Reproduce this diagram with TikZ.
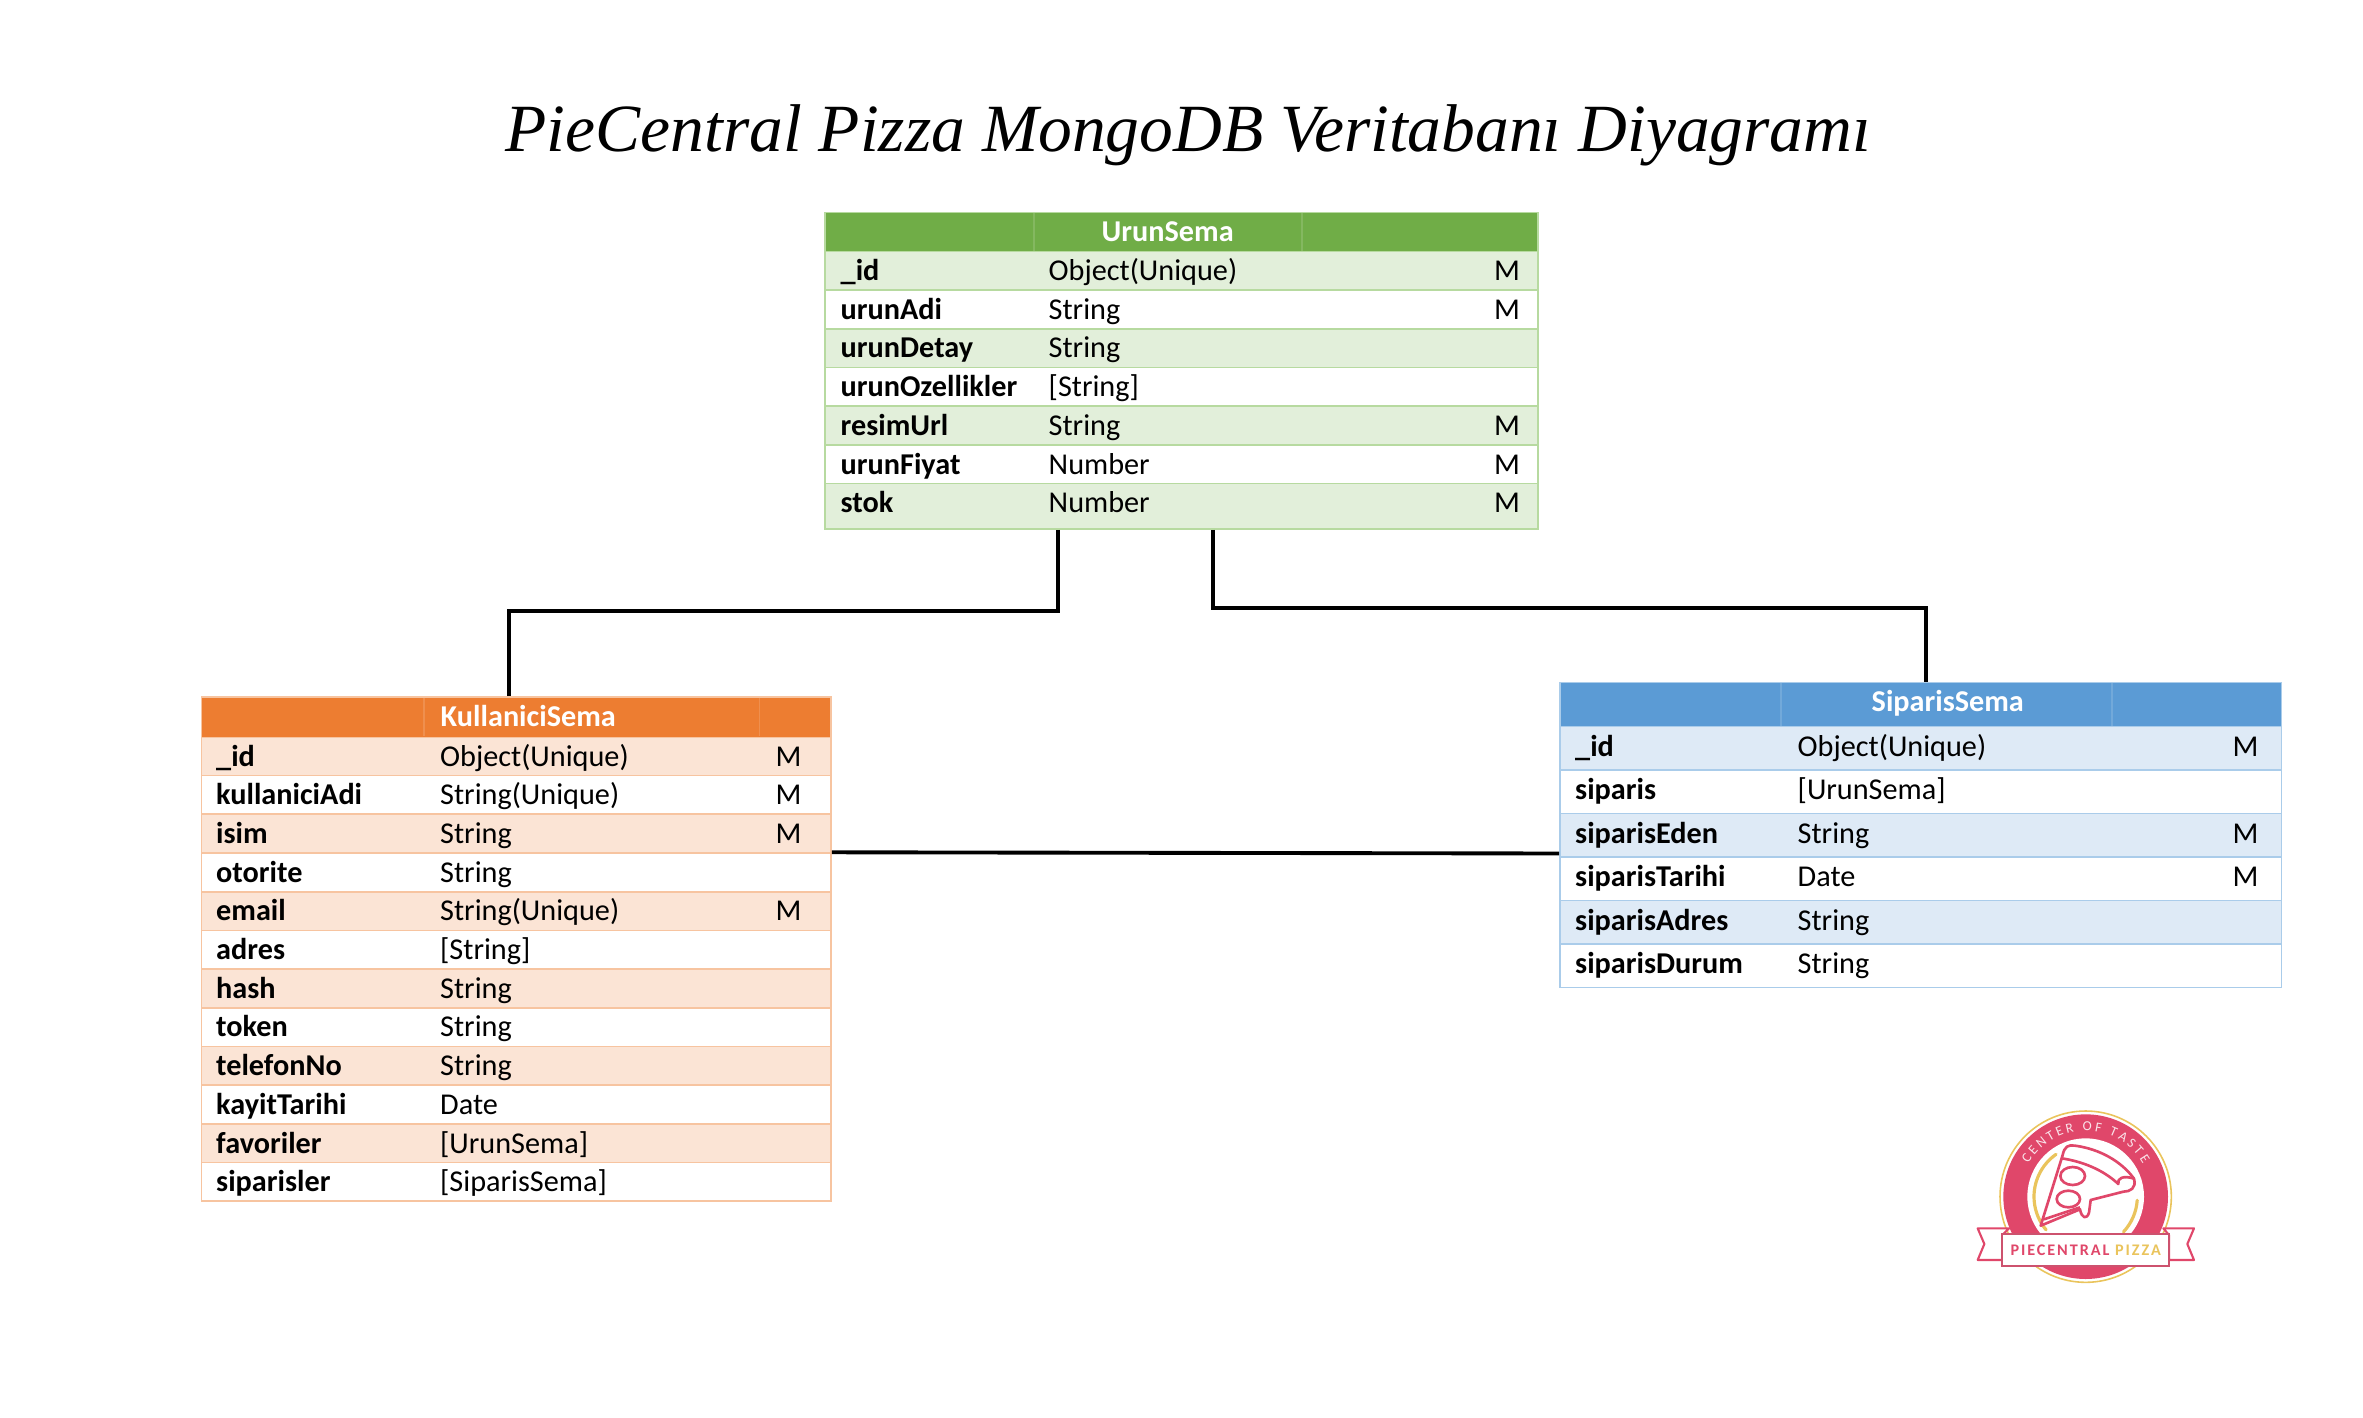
\documentclass[tikz,border=0pt]{standalone}
\usepackage{fontspec}
\setmainfont{Carlito}
\newfontfamily\titlefont{Liberation Serif}
\newfontfamily\badgefont[LetterSpace=12]{Carlito}
\usepackage{tikz}
\usetikzlibrary{calc, decorations.text}

\definecolor{urunhead}{HTML}{70AD47}
\definecolor{uruntint}{HTML}{E2EFDA}
\definecolor{urunline}{HTML}{B7DAA0}
\definecolor{kulhead}{HTML}{ED7D31}
\definecolor{kultint}{HTML}{FBE4D5}
\definecolor{kulline}{HTML}{F7C4A0}
\definecolor{sipchead}{HTML}{5B9BD5}
\definecolor{siptint}{HTML}{DEEAF6}
\definecolor{sipline}{HTML}{AACCEA}
\definecolor{logored}{HTML}{E0476A}
\definecolor{loggold}{HTML}{EAC45C}

\begin{document}
\begin{tikzpicture}[
        x=0.01cm, y=-0.01cm,
        tablebox/.style={rectangle, draw, line width=0.5pt, inner sep=0pt, anchor=north west},
        headbox/.style={rectangle, inner sep=0pt, anchor=north west},
        rowbox/.style={rectangle, draw, line width=0.5pt, inner sep=0pt, anchor=north west},
        headtext/.style={anchor=base west, inner sep=0pt, text=white, font=\fontsize{8.6}{10}\selectfont\bfseries},
        fieldtext/.style={anchor=base west, inner sep=0pt, font=\fontsize{8.6}{10}\selectfont\bfseries},
        typetext/.style={anchor=base west, inner sep=0pt, font=\fontsize{8.6}{10}\selectfont},
        headline/.style={draw=white, draw opacity=0.14, line width=0.35pt},
        link/.style={draw=black, line width=1.1pt}
    ]
        \useasboundingbox (0,0) rectangle (2363,1418);

        \node[anchor=base west, inner sep=0pt, font=\fontsize{19.2}{23}\selectfont\titlefont\itshape] (title) at (505,151) {PieCentral Pizza MongoDB Veritabanı Diyagramı};

        % urun table
        \foreach \fieldname/\fieldtype/\fieldreq [count=\i] in {\_id/Object(Unique)/M, urunAdi/String/M, urunDetay/String/, urunOzellikler/[String]/, resimUrl/String/M, urunFiyat/Number/M, stok/Number/M} {
            \pgfmathsetmacro{\rowy}{250.5+(\i-1)*38.7}
            \pgfmathsetmacro{\rowh}{ifthenelse(\i==7,45.1,38.7)}
            \ifodd\i \colorlet{rowfill}{uruntint}\else \colorlet{rowfill}{white}\fi
            \node[rowbox, draw=urunline, fill=rowfill, minimum width=713*0.01cm, minimum height=\rowh*0.01cm] (urun-row-\i) at (824,\rowy) {};
            \node[fieldtext] (urun-name-\i) at (840,\rowy+30) {\fieldname};
            \node[typetext] (urun-type-\i) at (1048,\rowy+30) {\fieldtype};
            \node[typetext] (urun-req-\i) at (1493.5,\rowy+30) {\fieldreq};
        }
        \node[headbox, fill=urunhead, minimum width=713*0.01cm, minimum height=39*0.01cm] (urunhead-box) at (824,211.5) {};
        \draw[headline] (urunhead-box.north west) ++(210,0) -- ++(0,39);
        \draw[headline] (urunhead-box.north west) ++(478,0) -- ++(0,39);
        \node[headtext] (urunhead-text) at (1101,241) {UrunSema};
        \node[tablebox, draw=urunline, minimum width=713*0.01cm, minimum height=316.5*0.01cm] (urun) at (824,211.5) {};

        % kullanici table
        \foreach \fieldname/\fieldtype/\fieldreq [count=\i] in {\_id/Object(Unique)/M, kullaniciAdi/String(Unique)/M, isim/String/M, otorite/String/, email/String(Unique)/M, adres/[String]/, hash/String/, token/String/, telefonNo/String/, kayitTarihi/Date/, favoriler/[UrunSema]/, siparisler/[SiparisSema]/} {
            \pgfmathsetmacro{\rowy}{736+(\i-1)*38.7}
            \ifodd\i \colorlet{rowfill}{kultint}\else \colorlet{rowfill}{white}\fi
            \node[rowbox, draw=kulline, fill=rowfill, minimum width=629.5*0.01cm, minimum height=38.7*0.01cm] (kul-row-\i) at (200.5,\rowy) {};
            \node[fieldtext] (kul-name-\i) at (215.5,\rowy+30) {\fieldname};
            \node[typetext] (kul-type-\i) at (439.5,\rowy+30) {\fieldtype};
            \node[typetext] (kul-req-\i) at (775,\rowy+30) {\fieldreq};
        }
        \node[headbox, fill=kulhead, minimum width=629.5*0.01cm, minimum height=40*0.01cm] (kulhead-box) at (200.5,696) {};
        \draw[headline] (kulhead-box.north west) ++(223.5,0) -- ++(0,40);
        \draw[headline] (kulhead-box.north west) ++(559,0) -- ++(0,40);
        \node[headtext] (kulhead-text) at (440,726.5) {KullaniciSema};
        \node[tablebox, draw=kulline, minimum width=629.5*0.01cm, minimum height=504*0.01cm] (kullanici) at (200.5,696) {};

        % siparis table
        \foreach \fieldname/\fieldtype/\fieldreq [count=\i] in {\_id/Object(Unique)/M, siparis/[UrunSema]/, siparisEden/String/M, siparisTarihi/Date/M, siparisAdres/String/, siparisDurum/String/} {
            \pgfmathsetmacro{\rowy}{725.7+(\i-1)*43.5}
            \ifodd\i \colorlet{rowfill}{siptint}\else \colorlet{rowfill}{white}\fi
            \node[rowbox, draw=sipline, fill=rowfill, minimum width=721.5*0.01cm, minimum height=43.5*0.01cm] (sip-row-\i) at (1559,\rowy) {};
            \node[fieldtext] (sip-name-\i) at (1574.5,\rowy+30.5) {\fieldname};
            \node[typetext] (sip-type-\i) at (1797,\rowy+30.5) {\fieldtype};
            \node[typetext] (sip-req-\i) at (2232,\rowy+30.5) {\fieldreq};
        }
        \node[headbox, fill=sipchead, minimum width=721.5*0.01cm, minimum height=44*0.01cm] (siphead-box) at (1559,681.7) {};
        \draw[headline] (siphead-box.north west) ++(222,0) -- ++(0,44);
        \draw[headline] (siphead-box.north west) ++(553,0) -- ++(0,44);
        \node[headtext] (siphead-text) at (1871,711.5) {SiparisSema};
        \node[tablebox, draw=sipline, minimum width=721.5*0.01cm, minimum height=305*0.01cm] (siparis) at (1559,681.7) {};

        % connectors
        \draw[link] ($(urun.south west)!0.327!(urun.south east)$) -- ++(0,81) -| ($(kullanici.north west)!0.489!(kullanici.north east)$);
        \draw[link] ($(urun.south west)!0.544!(urun.south east)$) -- ++(0,78.5) -| ($(siparis.north west)!0.508!(siparis.north east)$);
        \draw[link] ($(kullanici.north east)!0.309!(kullanici.south east)$) -- ($(siparis.north west)!0.56!(siparis.south west)$);

        % logo
        \begin{scope}[shift={(1940,1080)}, scale=1/3]
            \draw[loggold, line width=0.45pt, fill=white] (437,350) circle (257);
            \fill[logored] (437,350) circle (247);
            \fill[white] (437,350) circle (175);
            \draw[loggold, line width=0.9pt, line cap=round] (437,350) ++(-125:155) arc (-125:-220:155);
            \draw[loggold, line width=0.9pt, line cap=round] (437,350) ++(4:155) arc (4:43:155);
            \path[decorate, decoration={text along path, text align={fit to path}, text={|\fontsize{3.9}{4}\selectfont\color{white!85!logored}|CENTER OF TASTE}}] (437,350) ++(-150:198) arc (-150:-30:198);
            \draw[logored, line width=0.75pt, line join=round, fill=white] (302,437) -- (368,225) .. controls (373,200) and (385,193) .. (405,197) .. controls (480,207) and (545,245) .. (582,296) .. controls (590,325) and (570,335) .. (550,335) -- (452,360) -- (447,398) .. controls (440,420) and (425,415) .. (420,388) -- cycle;
            \draw[logored, line width=0.75pt, line join=round] (365,235) .. controls (430,245) and (490,270) .. (535,312) .. controls (530,295) and (550,285) .. (582,296);
            \draw[logored, line width=0.75pt] (312,418) -- (420,382);
            \draw[logored, line width=0.75pt] (398,288) ellipse (37 and 27);
            \draw[logored, line width=0.75pt] (385,357) ellipse (35 and 25);
            \draw[logored, line width=0.6pt, line join=round, fill=white] (187,465) -- (207,445) -- (113,445) -- (133,492) -- (113,540) -- (187,540) -- cycle;
            \draw[logored, line width=0.6pt, line join=round, fill=white] (687,465) -- (670,445) -- (762,445) -- (742,492) -- (762,540) -- (687,540) -- cycle;
            \draw[logored!80!gray, line width=0.6pt, fill=white] (187,462) rectangle (687,557);
            \node[inner sep=0pt, font=\fontsize{4.6}{5}\selectfont\badgefont\bfseries] (badge) at (437,512) {\textcolor{logored}{PIECENTRAL} \textcolor{loggold}{PIZZA}};
        \end{scope}
    \end{tikzpicture}
\end{document}
